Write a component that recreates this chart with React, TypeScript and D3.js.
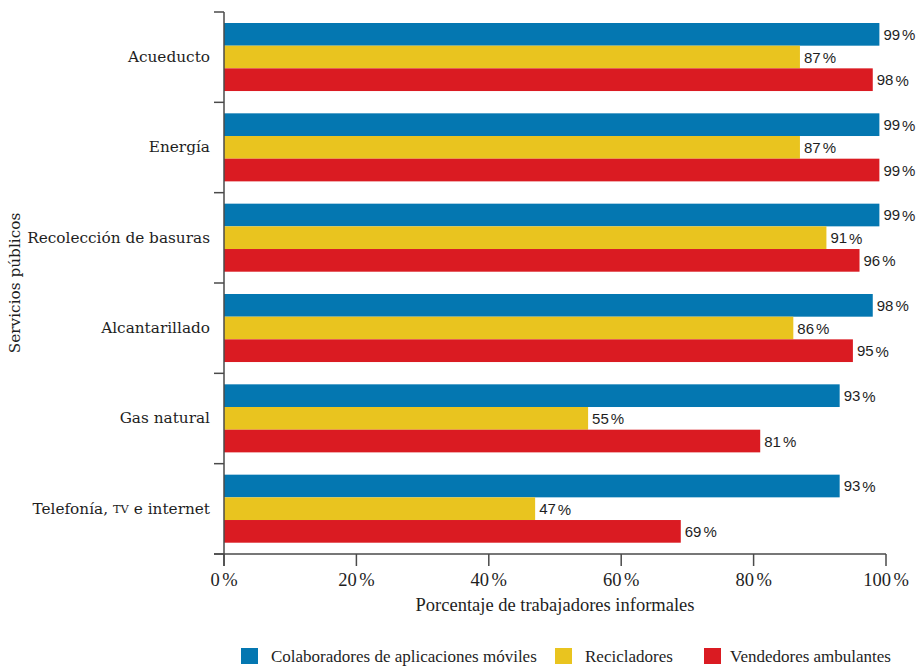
import React from "react";
import * as d3 from "d3";

const categories = [
  "Acueducto",
  "Energía",
  "Recolección de basuras",
  "Alcantarillado",
  "Gas natural",
  "Telefonía, TV e internet",
];

const seriesNames = [
  "Colaboradores de aplicaciones móviles",
  "Recicladores",
  "Vendedores ambulantes",
];

const colaboradores = [99, 99, 99, 98, 93, 93];
const recicladores = [87, 87, 91, 86, 55, 47];
const vendedores = [98, 99, 96, 95, 81, 69];

const seriesValues = [colaboradores, recicladores, vendedores];
const seriesColors = ["#0477b1", "#e9c41f", "#da1b22"];

const xTicks = [0, 20, 40, 60, 80, 100];

const W = 918;
const H = 667;
const left = 224;
const right = 886;
const top = 12;
const bottom = 554;

const serifCat = "'DejaVu Serif', serif";
const serifAxis = "'Liberation Serif', 'Times New Roman', serif";
const sans = "'Liberation Sans', Arial, sans-serif";
const axisColor = "#4a4a4a";
const textColor = "#1e1e1e";

function CategoryLabel({ text, x, y }: { text: string; x: number; y: number }) {
  // "TV" is set in small caps
  if (text.includes("TV")) {
    const [a, b] = text.split("TV");
    return (
      <text x={x} y={y} textAnchor="end" dominantBaseline="central" fontFamily={serifCat} fontSize={15.3} fill={textColor}>
        {a}
        <tspan fontSize={11.5}>TV</tspan>
        {b}
      </text>
    );
  }
  return (
    <text x={x} y={y} textAnchor="end" dominantBaseline="central" fontFamily={serifCat} fontSize={15.3} fill={textColor}>
      {text}
    </text>
  );
}

export default function App() {
  const x = d3.scaleLinear().domain([0, 100]).range([left, right]);
  const y = d3.scaleBand<string>().domain(categories).range([top, bottom]).padding(0);
  const inner = d3
    .scaleBand<number>()
    .domain(d3.range(seriesNames.length))
    .range([11, y.bandwidth() - 11.3])
    .padding(0);

  const boundaries = d3.range(categories.length + 1).map((i) => top + i * y.step());

  const legendItems = [
    { sq: 241, tx: 271 },
    { sq: 555, tx: 585 },
    { sq: 704, tx: 730 },
  ];

  return (
    <svg width={W} height={H} style={{ position: "absolute", left: 0, top: 0, background: "#fff" }}>
      {/* bars */}
      {categories.map((c, ci) => (
        <g key={c} transform={`translate(0,${y(c)})`}>
          {seriesValues.map((vals, si) => (
            <g key={si}>
              <rect
                x={x(0)}
                y={inner(si)}
                width={x(vals[ci]) - x(0)}
                height={inner.bandwidth()}
                fill={seriesColors[si]}
              />
              <text
                x={x(vals[ci]) + 4}
                y={(inner(si) as number) + inner.bandwidth() / 2}
                dominantBaseline="central"
                fontFamily={sans}
                fontSize={15}
                fill={textColor}
              >
                {vals[ci]}
                <tspan dx={2}>%</tspan>
              </text>
            </g>
          ))}
          <CategoryLabel text={c} x={210} y={y.bandwidth() / 2} />
        </g>
      ))}

      {/* y axis */}
      <line x1={left} x2={left} y1={top} y2={bottom + 12} stroke={axisColor} strokeWidth={1.5} />
      {boundaries.map((b, i) => (
        <line key={i} x1={left - 10} x2={left} y1={b} y2={b} stroke={axisColor} strokeWidth={1.5} />
      ))}
      <text
        transform={`translate(15,${(top + bottom) / 2}) rotate(-90)`}
        textAnchor="middle"
        dominantBaseline="central"
        fontFamily={serifCat}
        fontSize={15.3}
        fill={textColor}
      >
        Servicios públicos
      </text>

      {/* x axis */}
      <line x1={left - 10} x2={right} y1={bottom} y2={bottom} stroke={axisColor} strokeWidth={1.5} />
      {xTicks.map((t) => (
        <g key={t} transform={`translate(${x(t)},0)`}>
          <line y1={bottom} y2={bottom + 12} stroke={axisColor} strokeWidth={1.5} />
          <text y={bottom + 32} textAnchor="middle" fontFamily={serifAxis} fontSize={18.5} fill={textColor}>
            {t}
            <tspan dx={2.5}>%</tspan>
          </text>
        </g>
      ))}
      <text
        x={(left + right) / 2}
        y={611}
        textAnchor="middle"
        fontFamily={serifAxis}
        fontSize={18.5}
        fill={textColor}
      >
        Porcentaje de trabajadores informales
      </text>

      {/* legend */}
      {seriesNames.map((n, i) => (
        <g key={n}>
          <rect x={legendItems[i].sq} y={648} width={17} height={16} fill={seriesColors[i]} />
          <text x={legendItems[i].tx} y={662} fontFamily={serifAxis} fontSize={17} fill={textColor}>
            {n}
          </text>
        </g>
      ))}
    </svg>
  );
}
